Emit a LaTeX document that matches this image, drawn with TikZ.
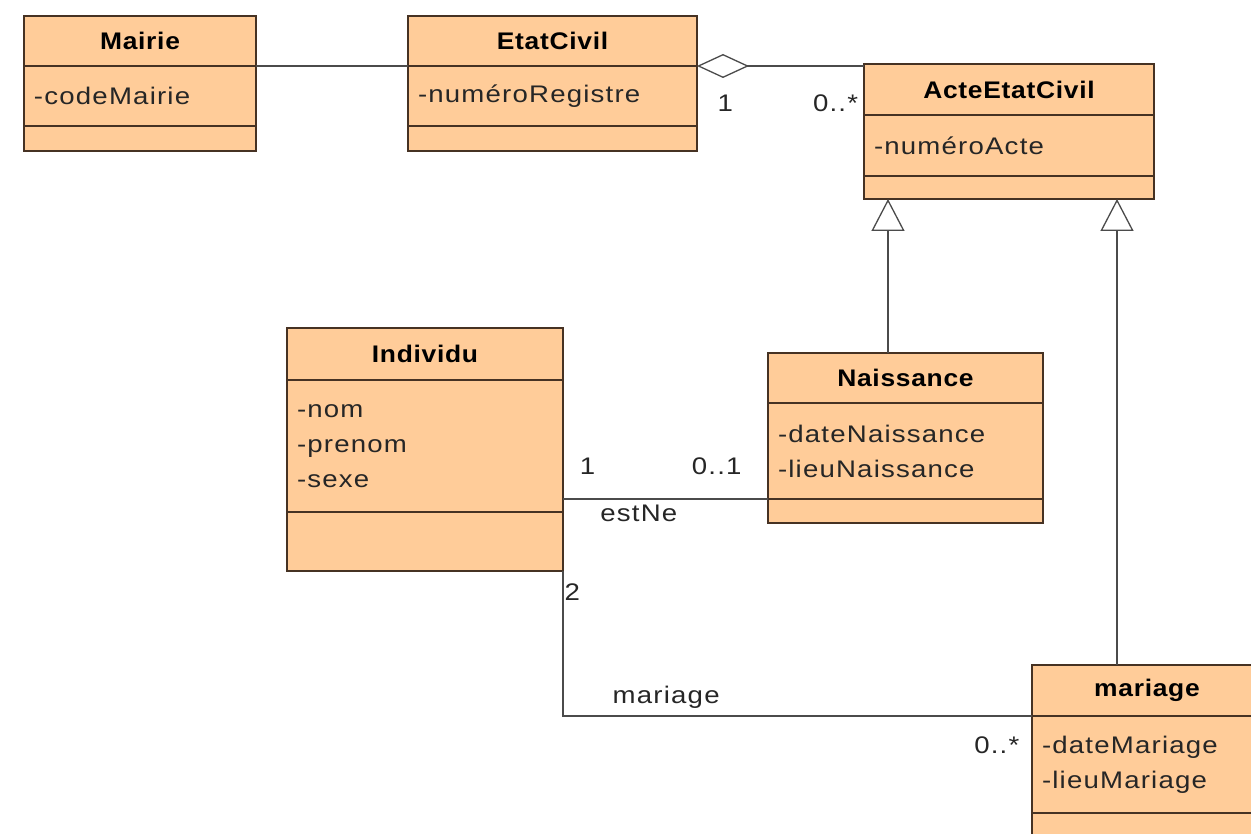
\documentclass[tikz,border=0pt]{standalone}
\usepackage{fontspec}
\setmainfont{Liberation Sans}[LetterSpace=5, FakeStretch=1.15]
\newfontfamily\titlefont{Liberation Sans}[LetterSpace=3, FakeStretch=1.1]
\usepackage{tikz}
\usetikzlibrary{positioning, calc, arrows.meta}
\definecolor{umlfill}{RGB}{255,204,153}
\definecolor{umlline}{RGB}{70,50,35}
\definecolor{linkgray}{RGB}{75,75,75}

\begin{document}
\begin{tikzpicture}[x=1pt, y=-1pt,
    part/.style={draw=umlline, fill=umlfill, line width=1.3pt, inner sep=0pt, outer sep=0pt, anchor=north west},
    head/.style={part, text=black, font=\titlefont\bfseries\fontsize{24}{28}\selectfont},
    attr/.style={part, inner xsep=10pt, align=left, text=black!85, font=\fontsize{24}{35}\selectfont},
    link/.style={draw=linkgray, line width=1.3pt},
    mult/.style={inner sep=0pt, text=black!85, font=\fontsize{24}{28}\selectfont},
    inherit/.style={link, -{Triangle[open, length=32pt, width=33pt]}}]
    \useasboundingbox (0,0) rectangle (1251,834);
    \clip (0,0) rectangle (1251,834);

    % classes
    \node[head, minimum width=232, minimum height=50] (mairie) at (24,16) {Mairie};
    \node[attr, text width=212pt, minimum height=60, below=0pt of mairie] (mairie-attr) {-codeMairie};
    \node[part, minimum width=232, minimum height=25, below=0pt of mairie-attr] (mairie-op) {};

    \node[head, minimum width=289, minimum height=50] (etat) at (408,16) {EtatCivil};
    \node[attr, text width=269pt, minimum height=60, below=0pt of etat] (etat-attr) {-numéroRegistre};
    \node[part, minimum width=289, minimum height=25, below=0pt of etat-attr] (etat-op) {};

    \node[head, minimum width=290, minimum height=51] (acte) at (864,64) {ActeEtatCivil};
    \node[attr, text width=270pt, minimum height=61, below=0pt of acte] (acte-attr) {-numéroActe};
    \node[part, minimum width=290, minimum height=23, below=0pt of acte-attr] (acte-op) {};

    \node[head, minimum width=276, minimum height=52] (indiv) at (287,328) {Individu};
    \node[attr, text width=256pt, minimum height=132, below=0pt of indiv] (indiv-attr) {-nom\\-prenom\\-sexe};
    \node[part, minimum width=276, minimum height=59, below=0pt of indiv-attr] (indiv-op) {};

    \node[head, minimum width=275, minimum height=50] (naiss) at (768,353) {Naissance};
    \node[attr, text width=255pt, minimum height=96, below=0pt of naiss] (naiss-attr) {-dateNaissance\\-lieuNaissance};
    \node[part, minimum width=275, minimum height=24, below=0pt of naiss-attr] (naiss-op) {};

    \node[head, minimum width=230, minimum height=51] (mar) at (1032,665) {mariage};
    \node[attr, text width=210pt, minimum height=97, below=0pt of mar] (mar-attr) {-dateMariage\\-lieuMariage};
    \node[part, minimum width=230, minimum height=24, below=0pt of mar-attr] (mar-op) {};

    % associations
    \draw[link] (mairie.south east) -- (etat.south west);
    \draw[link, -{Diamond[open, length=52pt, width=24pt]}] (etat.south east -| acte.west) -- (etat.south east)
        node[mult, pos=0.17, yshift=-37pt] {0..*}
        node[mult, pos=0.83, yshift=-37pt] {1};
    \draw[link] (indiv-attr.east |- naiss-attr.south west) -- (naiss-attr.south west)
        node[mult, pos=0.12, yshift=33pt] {1}
        node[mult, pos=0.75, yshift=33pt] {0..1}
        node[mult, pos=0.37, yshift=-14pt] {estNe};
    \draw[link] (indiv-op.south east) |- (mar.south west)
        node[mult, at start, anchor=north west, xshift=1pt, yshift=-12pt] {2}
        node[mult, pos=0.61, yshift=19pt] {mariage}
        node[mult, at end, anchor=east, xshift=-12pt, yshift=-29pt] {0..*};

    % generalisations
    \coordinate (g1) at ($(acte-op.south west)+(24,0)$);
    \coordinate (g2) at ($(acte-op.south east)+(-37,0)$);
    \draw[inherit] (g1 |- naiss.north) -- (g1);
    \draw[inherit] (g2 |- mar.north) -- (g2);
\end{tikzpicture}
\end{document}
